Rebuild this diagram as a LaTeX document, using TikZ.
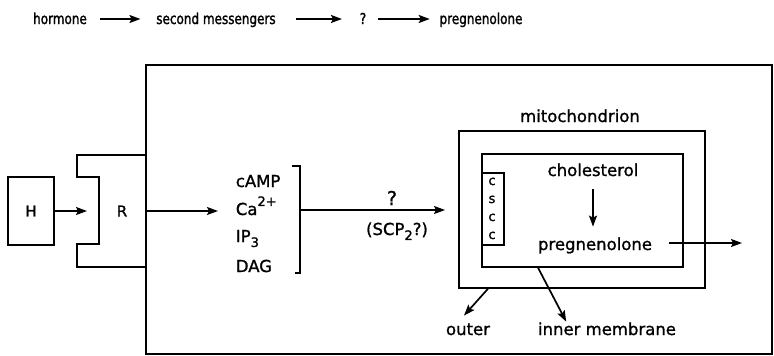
\documentclass[tikz,border=0pt]{standalone}
\usepackage{fontspec}
\setmainfont[FakeBold=1.2]{DejaVu Sans}
\newfontfamily\topfont[FakeStretch=0.8,FakeBold=1.5]{DejaVu Sans}
\usetikzlibrary{arrows.meta,calc}
\begin{document}
\begin{tikzpicture}[x=1pt,y=-1pt,line width=1.7pt,
  arr/.style={-{Stealth[length=11pt,width=8pt,inset=2pt]}},
  lbl/.style={font=\fontsize{16.5}{18}\selectfont,inner sep=0pt,anchor=base},
  small/.style={font=\fontsize{13}{14}\selectfont,inner sep=0pt,anchor=base},
  toplbl/.style={font=\topfont\fontsize{15}{16}\selectfont,inner sep=0pt,anchor=base},
  boxn/.style={draw,inner sep=0pt,anchor=north west}]
\useasboundingbox (0,0) rectangle (774,356);
% top reaction line
\node[toplbl] (hormone) at (60,24) {hormone};
\node[toplbl] (second) at (216,24) {second messengers};
\node[toplbl] (q0) at (363,24) {?};
\node[toplbl] (preg0) at (481,24) {pregnenolone};
\draw[arr] ($(hormone.base east)+(12,-5)$) -- ($(second.base west)+(-15,-5)$);
\draw[arr] ($(second.base east)+(19,-5)$) -- ($(q0.base west)+(-17,-5)$);
\draw[arr] ($(q0.base east)+(11,-5)$) -- ($(preg0.base west)+(-9,-5)$);
% cell
\node[boxn,line width=2pt,minimum width=626pt,minimum height=289pt] (cell) at (145,64) {};
% hormone box
\node[draw,inner sep=0pt,minimum width=46pt,minimum height=68pt,font=\fontsize{15}{16}\selectfont] (H) at (31,211) {H};
% receptor
\draw (cell.west |- 0,155) -- (77,155) -- (77,177) -- (99,177) -- (99,244) -- (77,244) -- (77,267) -- (cell.west |- 0,267);
\node[font=\fontsize{15}{16}\selectfont,inner sep=0pt] (R) at (122,211) {R};
\coordinate (Rcup) at (87,211);
\draw[arr] (H.east) -- (Rcup);
% second messengers
\node[lbl,anchor=base west] (camp) at (235,187) {cAMP};
\node[lbl,anchor=base west] (ca) at (235,215) {Ca\raisebox{1.0ex}{\fontsize{13}{14}\selectfont 2+}};
\node[lbl,anchor=base west] (ip) at (235,242) {IP\raisebox{-0.55ex}{\fontsize{13}{14}\selectfont 3}};
\node[lbl,anchor=base west] (dag) at (235,272) {DAG};
\draw[arr] (cell.west |- H.east) -- ($(ca.base west)+(-17,-4)$);
\draw (292,166) -- (300,166) -- (300,273) -- (295,273);
\coordinate (brk) at (300,210);
% mitochondrion
\node[boxn,minimum width=246pt,minimum height=157pt] (mito) at (458,130) {};
\node[boxn,minimum width=201pt,minimum height=113pt] (inner) at (481,153) {};
\node[boxn,minimum width=22pt,minimum height=72pt] (cscc) at (481,172) {};
\node[small] (c1) at (492,185) {c};
\node[small] (c2) at (492,203) {s};
\node[small] (c3) at (492,221) {c};
\node[small] (c4) at (492,239) {c};
\draw[arr] (brk) -- ($(brk -| mito.west)+(-13,0)$);
\node[lbl,font=\fontsize{19}{20}\selectfont] (q1) at (392,205) {?};
\node[lbl] (scp) at (397,235) {(SCP\raisebox{-0.55ex}{\fontsize{13}{14}\selectfont 2}?)};
\node[lbl] (mitolbl) at (580,122) {mitochondrion};
\node[lbl] (chol) at (593,176) {cholesterol};
\node[lbl] (preg) at (595,250) {pregnenolone};
\draw[arr] ($(chol.south)+(0,12)$) -- ($(chol.south |- preg.north)+(0,-10)$);
\coordinate (out) at (742,243);
\draw[arr] ($(out -| preg.east)+(16,0)$) -- (out);
% membrane labels
\node[lbl] (outer) at (468,335) {outer};
\node[lbl] (inmem) at (607,335) {inner membrane};
\draw[arr] ($(mito.south west)+(30,0)$) -- ($(outer.north)+(-4,-7)$);
\draw[arr] ($(inner.south west)+(57,0)$) -- ($(inmem.north west)+(29,0)$);
\end{tikzpicture}
\end{document}
